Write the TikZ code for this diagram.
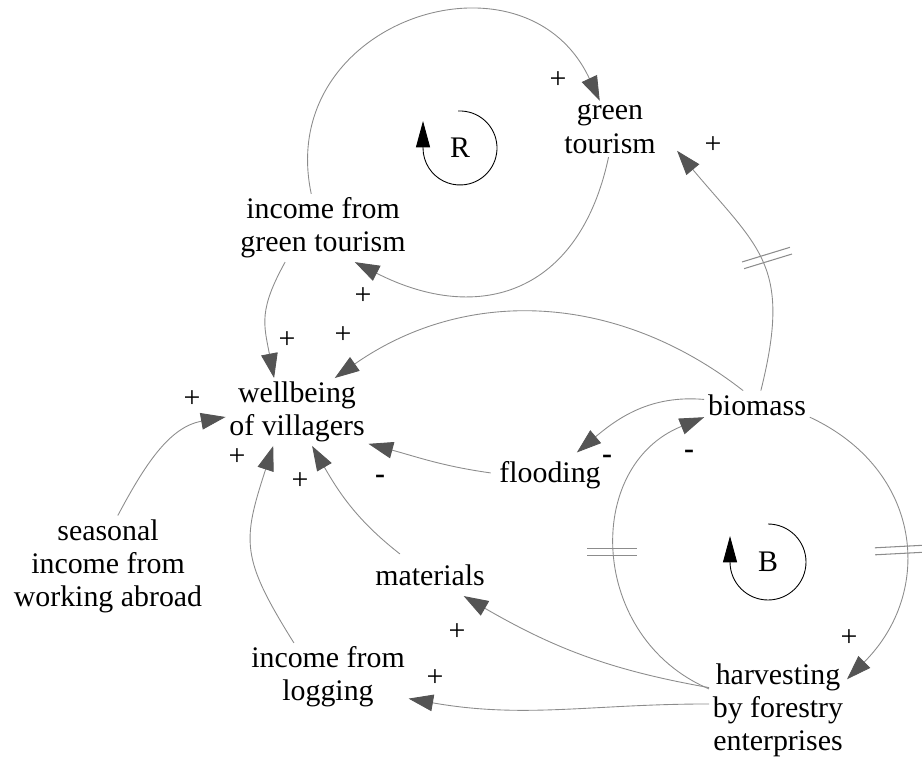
\documentclass[tikz,border=0pt]{standalone}
\usepackage{fontspec}
\setmainfont{Liberation Serif}
\usepackage{tikz}
\usetikzlibrary{arrows.meta}
\definecolor{LinkGray}{gray}{0.55}
\definecolor{TipGray}{gray}{0.33}
\newcommand{\cldfont}{\fontsize{17}{18.8}\selectfont}

\begin{document}
\begin{tikzpicture}[x = .02cm, y = .02cm]%
    %
    \tikzstyle{quantity} = [align = center, inner sep = 2pt, font = \cldfont]%
    \tikzstyle{polarity} = [inner sep = 0pt, font = \cldfont]%
    \tikzstyle{link} = [-{Triangle[length = 14pt, width = 9.5pt, color = TipGray]}, draw = LinkGray, line width = .5pt]%
    \tikzstyle{loopsym} = [-{Triangle[length = 15pt, width = 8pt]}, draw = black, line width = .5pt]%
    \tikzstyle{delayline} = [draw = LinkGray, line width = .6pt]%
    %
    \def\delaymark(#1)(#2){% Syntax: (centre)(angle)
        \draw [delayline, shift = {(#1)}, rotate = #2] (-25, 3.5) -- (25, 3.5) (-25, -3.5) -- (25, -3.5);%
    }%
    %
    \useasboundingbox (0, 0) rectangle (922, -759);%
    %
    \node (gt) [quantity, inner xsep = 12pt] at (610, -129) {green\\tourism};%
    \node (inc) [quantity] at (323, -228) {income from\\green tourism};%
    \node (wb) [quantity] at (297, -412) {wellbeing\\of villagers};%
    \node (sea) [quantity] at (108, -566) {seasonal\\income from\\working abroad};%
    \node (mat) [quantity, outer sep = 4pt] at (430, -575) {materials};%
    \node (log) [quantity] at (328, -677) {income from\\logging};%
    \node (bio) [quantity] at (757, -405) {biomass};%
    \node (fl) [quantity, outer sep = 3pt] at (550, -475) {flooding};%
    \node (harv) [quantity, inner ysep = .5pt] at (778, -710) {harvesting\\by forestry\\enterprises};%
    %
    % loop markers
    \node (R) [quantity] at (460, -148) {R};%
    \draw [loopsym] ([shift = {(93:.74cm)}]R.center) arc [start angle = 93, end angle = -180, radius = .74cm] -- ++(0, .54cm);%
    \node (B) [quantity] at (768, -562) {B};%
    \draw [loopsym] ([shift = {(90:.76cm)}]B.center) arc [start angle = 90, end angle = -180, radius = .76cm] -- ++(0, .52cm);%
    %
    % causal links
    \draw [link] (inc.109) to [out = 102, in = 115, looseness = 1.5] (gt.110);%
    \draw [link] (gt.-93) to [out = -102, in = -27, looseness = 1.3] (inc.-47);%
    \draw [link] (inc.-138) to [out = -119, in = 101, looseness = 1.2] (wb.124);%
    \draw [link] (bio.134) to [out = 142, in = 35] (wb.42);%
    \draw [link] (bio.75) to [out = 76, in = -50, looseness = 1.3] (gt.-18);%
    \draw [link] (bio.174) to [out = 175, in = 40] (fl.40);%
    \draw [link] (fl.178) to [out = 172, in = -15] (wb.-24.5);%
    \draw [link] (harv.163) to [out = 157, in = 202, looseness = 1.23] (bio.193);%
    \draw [link] (harv.162) to [out = 170, in = -30] (mat.-32);%
    \draw [link] (harv.175) to [out = 180, in = -10] (log.-15);%
    \draw [link] (bio.-13) to [out = -25, in = 45, looseness = 1.2] (harv.24);%
    \draw [link] (log.135) to [out = 122, in = -108, looseness = 1.3] (wb.-125);%
    \draw [link] (mat.145) to [out = 142, in = -60] (wb.-66);%
    \draw [link] (sea.79) to [out = 62, in = 190] (wb.184);%
    %
    % delays
    \delaymark(767, -258)(17);%
    \delaymark(612, -552)(0);%
    \delaymark(900, -550)(3);%
    %
    % polarities
    \node (p1) [polarity] at (558, -80) {+};%
    \node (p2) [polarity] at (363, -296) {+};%
    \node (p3) [polarity] at (287, -340) {+};%
    \node (p4) [polarity] at (343, -335) {+};%
    \node (p5) [polarity] at (713, -145) {+};%
    \node (p6) [polarity] at (607, -459) {\textbf{-}};%
    \node (p7) [polarity] at (380, -479) {\textbf{-}};%
    \node (p8) [polarity] at (689, -454) {\textbf{-}};%
    \node (p9) [polarity] at (849, -638) {+};%
    \node (p10) [polarity] at (457, -632) {+};%
    \node (p11) [polarity] at (435, -678) {+};%
    \node (p12) [polarity] at (237, -457) {+};%
    \node (p13) [polarity] at (300, -481) {+};%
    \node (p14) [polarity] at (192, -399) {+};%
\end{tikzpicture}
\end{document}
